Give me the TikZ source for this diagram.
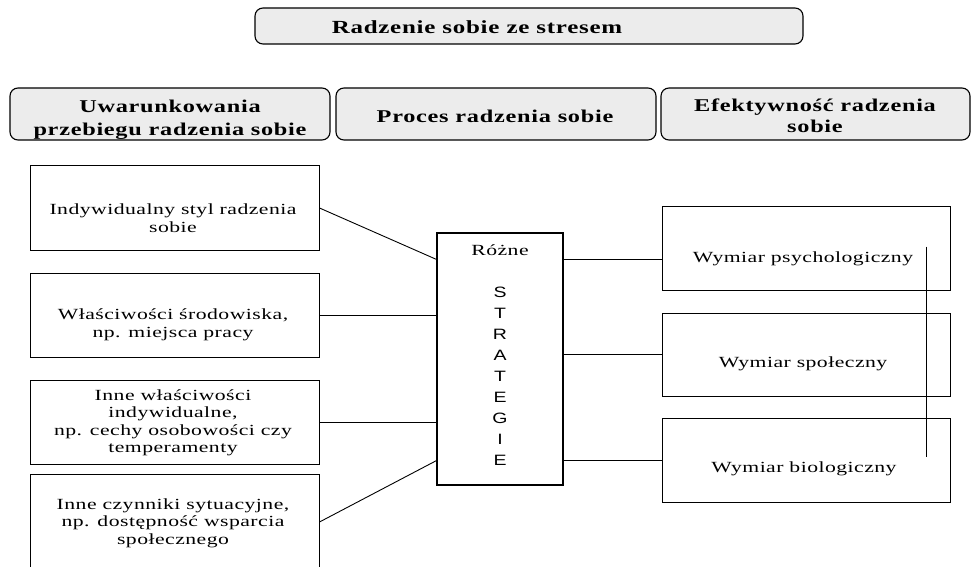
\documentclass[tikz,border=0pt]{standalone}
\usepackage{fontspec}
\setmainfont{Liberation Serif}
\newfontfamily\bodyf[FakeStretch=1.4,LetterSpace=3]{Liberation Serif}
\newfontfamily\headf[FakeStretch=1.35,LetterSpace=4]{Liberation Serif}
\newfontfamily\sansf[FakeStretch=1.3]{Liberation Sans}
\begin{document}
\begin{tikzpicture}[x=1pt,y=-1pt,
  rbox/.style={draw,rounded corners=8pt,fill=gray!15,line width=1.1pt,inner sep=0pt},
  pbox/.style={draw,line width=1pt,inner sep=0pt},
  txt/.style={align=center,inner sep=0pt,font=\bodyf\fontsize{15.5}{17.5}\selectfont},
  htxt/.style={align=center,inner sep=0pt,font=\headf\bfseries\fontsize{18}{21}\selectfont},
  conn/.style={line width=0.9pt}]
\useasboundingbox (0,0) rectangle (972,567);
% title
\node[rbox,minimum width=548pt,minimum height=36pt] (title) at (529,26) {};
\node[htxt,font=\headf\bfseries\fontsize{18.5}{21}\selectfont] (titletxt) at (477,27) {Radzenie sobie ze stresem};
% headers
\node[rbox,minimum width=320pt,minimum height=52pt] (h1) at (170,114) {};
\node[rbox,minimum width=320pt,minimum height=52pt] (h2) at (496,114) {};
\node[rbox,minimum width=309pt,minimum height=52pt] (h3) at (815.5,114) {};
\begin{scope}
\clip (10,88) rectangle (330,139.4);
\node[htxt,font=\headf\bfseries\fontsize{18}{23}\selectfont] (h1txt) at (170,120) {Uwarunkowania\\przebiegu radzenia sobie};
\end{scope}
\node[htxt] (h2txt) at (495,116) {Proces radzenia sobie};
\node[htxt] (h3txt) at (815,116) {Efektywność radzenia\\sobie};
% left boxes
\node[pbox,minimum width=289pt,minimum height=84pt] (a) at (174.5,208) {};
\node[pbox,minimum width=289pt,minimum height=84pt] (b) at (174.5,315) {};
\node[pbox,minimum width=289pt,minimum height=84pt] (c) at (174.5,422) {};
\node[pbox,minimum width=289pt,minimum height=96pt] (d) at (174.5,522) {};
\node[txt] (atxt) at (173,218) {Indywidualny styl radzenia\\sobie};
\node[txt] (btxt) at (173,325) {Właściwości środowiska,\\np. miejsca pracy};
\node[txt] (ctxt) at (173,423) {Inne właściwości\\indywidualne,\\np. cechy osobowości czy\\temperamenty};
\node[txt] (dtxt) at (173,523) {Inne czynniki sytuacyjne,\\np. dostępność wsparcia\\społecznego};
% centre
\node[pbox,line width=1.2pt,minimum width=126pt,minimum height=252pt] (s) at (500,359) {};
\node[txt] (roz) at (500,250) {Różne};
\node[align=center,inner sep=0pt,font=\sansf\fontsize{15}{21}\selectfont] (strat) at (500,376) {S\\T\\R\\A\\T\\E\\G\\I\\E};
% right boxes
\node[pbox,minimum width=288pt,minimum height=84pt] (p) at (806,248) {};
\node[pbox,minimum width=288pt,minimum height=83pt] (q) at (806,354.5) {};
\node[pbox,minimum width=288pt,minimum height=84pt] (r) at (806,460) {};
\node[txt] (ptxt) at (803,259) {Wymiar psychologiczny};
\node[txt] (qtxt) at (803,364) {Wymiar społeczny};
\node[txt] (rtxt) at (804,469) {Wymiar biologiczny};
% connectors left
\coordinate (sa) at ([yshift=-27pt]s.north west);
\coordinate (sd) at ([yshift=25pt]s.south west);
\draw[conn] (a.east) -- (sa);
\draw[conn] (b.east) -- (s.west |- b.east);
\draw[conn] (c.east) -- (s.west |- c.east);
\draw[conn] (d.east) -- (sd);
% connectors right
\coordinate (pin) at ([yshift=-54pt]p.north west);
\draw[conn] (s.east |- pin) -- (pin);
\draw[conn] (s.east |- q.west) -- (q.west);
\draw[conn] (s.east |- r.west) -- (r.west);
\coordinate (vt) at ([xshift=-24pt,yshift=-41pt]p.north east);
\coordinate (vb) at ([xshift=-24pt,yshift=-39pt]r.north east);
\draw[line width=1.3pt] (vt) -- (vb);
\end{tikzpicture}
\end{document}
